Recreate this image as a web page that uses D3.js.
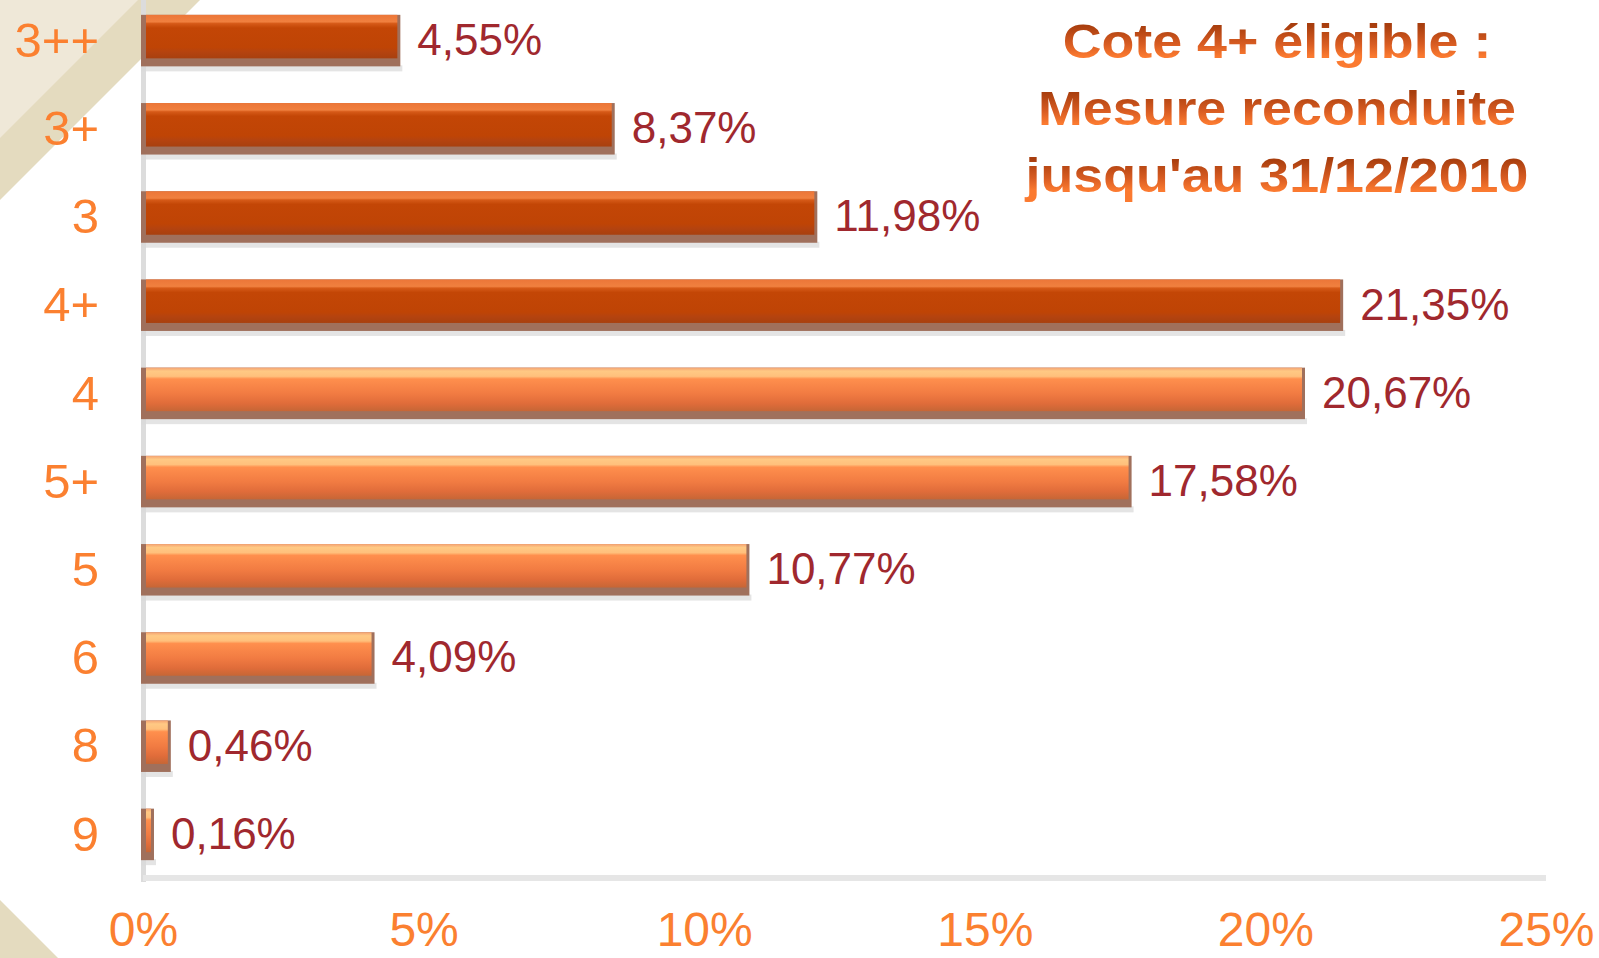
<!DOCTYPE html>
<html lang="fr">
<head>
<meta charset="UTF-8">
<title>Cote 4+ éligible</title>
<style>
    html, body { margin: 0; padding: 0; background: #fff; overflow: hidden; }
    svg { display: block; font-family: "Liberation Sans", Arial, sans-serif; }
    .cat-label { fill: #fb8030; font-size: 49px; }
    .tick-label { fill: #fb8030; font-size: 48px; }
    .value-label { fill: #a0282e; font-size: 44px; }
    .title-line { font-size: 48px; font-weight: bold; text-anchor: middle; }
</style>
</head>
<body>
<svg id="chart" width="1599" height="958"></svg>
<script src="https://d3js.org/d3.v7.min.js"></script>
<script>
    // --- Data ---
    const categories = ["3++", "3+", "3", "4+", "4", "5+", "5", "6", "8", "9"];
    const values = [4.55, 8.37, 11.98, 21.35, 20.67, 17.58, 10.77, 4.09, 0.46, 0.16];
    const darkCategories = ["3++", "3+", "3", "4+"];
    const xTicks = [0, 5, 10, 15, 20, 25];
    const titleLines = ["Cote 4+ éligible :", "Mesure reconduite", "jusqu'au 31/12/2010"];

    const data = categories.map((c, i) => ({ cat: c, value: values[i], dark: darkCategories.includes(c) }));

    const svg = d3.select("#chart");

    // --- Background corners ---
    svg.append("path").attr("d", "M0,0 L200,0 L0,200 Z").attr("fill", "#e4dbbf");
    svg.append("path").attr("d", "M0,0 L138,0 L0,138 Z").attr("fill", "#efe8d8");
    svg.append("path").attr("d", "M0,900 L58,958 L0,958 Z").attr("fill", "#e4dbbf");

    // --- Gradients ---
    const defs = svg.append("defs");
    function grad(id, stops) {
        const g = defs.append("linearGradient").attr("id", id)
            .attr("x1", 0).attr("y1", 0).attr("x2", 0).attr("y2", 1);
        stops.forEach(s => g.append("stop").attr("offset", s[0]).attr("stop-color", s[1]));
    }
    grad("darkBar", [[0, "#ec7638"], [0.16, "#f0803f"], [0.2, "#d65a18"], [0.3, "#c34606"], [0.75, "#bf4405"], [0.85, "#b5430f"], [1, "#a8400f"]]);
    grad("lightBar", [[0, "#f4a272"], [0.08, "#ffc984"], [0.2, "#ffc07c"], [0.26, "#ff8f4d"], [0.6, "#f17b42"], [0.82, "#e06c3a"], [1, "#c66636"]]);
    grad("titleGrad", [[0, "#a63c0c"], [0.2, "#a83e0e"], [0.55, "#d85c22"], [0.78, "#fb7a30"], [1, "#fb7a30"]]);

    // --- Scales ---
    const x = d3.scaleLinear().domain([0, 25]).range([143, 1546]);
    const y = d3.scaleBand().domain(categories).range([-5, 877])
        .paddingInner(0.45).paddingOuter(0.225);
    const bh = y.bandwidth();

    // --- Axis lines ---
    svg.append("rect").attr("x", x(0) - 2).attr("y", 0).attr("width", 5).attr("height", 882).attr("fill", "#dcdcdc");
    svg.append("rect").attr("x", x(0)).attr("y", 875).attr("width", x(25) - x(0)).attr("height", 6).attr("fill", "#e6e6e6");

    // --- Bars ---
    const bars = svg.append("g").selectAll("g.bar").data(data).enter().append("g").attr("class", "bar");

    // soft shadow
    bars.append("rect")
        .attr("x", x(0) - 2)
        .attr("y", d => y(d.cat) + bh + 2)
        .attr("width", d => x(d.value) - x(0) + 6)
        .attr("height", 6)
        .attr("fill", "#d8d8d8").attr("opacity", 0.7);
    // brown border
    bars.append("rect")
        .attr("x", x(0) - 2)
        .attr("y", d => y(d.cat))
        .attr("width", d => x(d.value) - x(0) + 4)
        .attr("height", bh + 3)
        .attr("fill", "#a0705c");
    // main gradient body
    bars.append("rect")
        .attr("x", x(0) + 3)
        .attr("y", d => y(d.cat))
        .attr("width", d => Math.max(2, x(d.value) - x(0) - 4))
        .attr("height", bh - 5)
        .attr("fill", d => d.dark ? "url(#darkBar)" : "url(#lightBar)");

    // value labels
    bars.append("text")
        .attr("class", "value-label")
        .attr("x", d => x(d.value) + 19)
        .attr("y", d => y(d.cat) + bh / 2)
        .attr("dy", "0.36em")
        .text(d => d.value.toFixed(2).replace(".", ",") + "%");

    // --- Y axis (category labels) ---
    const yAxis = svg.append("g")
        .attr("transform", `translate(${x(0)},0)`)
        .call(d3.axisLeft(y).tickSize(0).tickPadding(44));
    yAxis.select(".domain").remove();
    yAxis.selectAll("text").attr("class", "cat-label").attr("font-size", null).attr("font-family", null)
        .attr("fill", null).attr("dy", "0.36em");

    // --- X axis (percent labels) ---
    const xAxis = svg.append("g")
        .attr("transform", "translate(0,877)")
        .call(d3.axisBottom(x).tickValues(xTicks).tickSize(0).tickFormat(d => d + "%"));
    xAxis.select(".domain").remove();
    xAxis.selectAll("text").attr("class", "tick-label").attr("font-size", null).attr("font-family", null)
        .attr("fill", null).attr("y", 69).attr("dy", 0);

    // --- Title (slightly stretched horizontally, as in the original) ---
    svg.append("g")
        .attr("transform", "translate(1277,0) scale(1.12,1)")
        .selectAll("text").data(titleLines).enter().append("text")
        .attr("class", "title-line")
        .attr("x", 0)
        .attr("y", (d, i) => 58 + i * 67)
        .attr("fill", "url(#titleGrad)")
        .text(d => d);
</script>
</body>
</html>
